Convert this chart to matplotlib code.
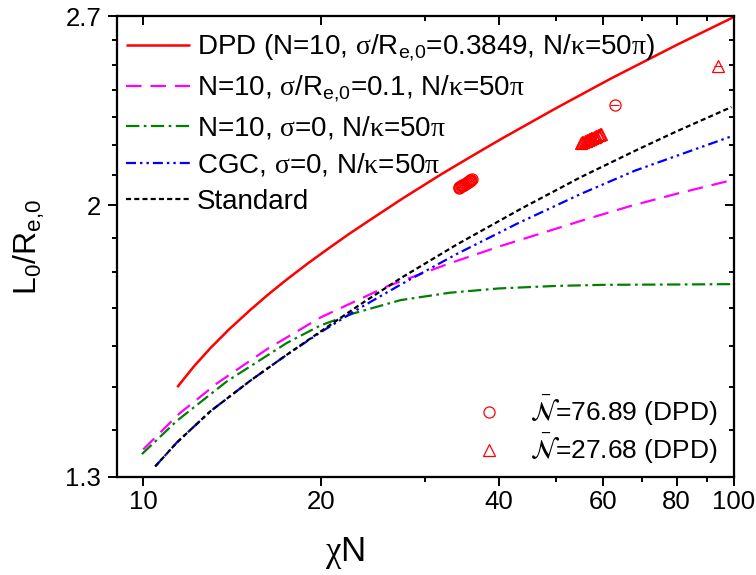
import matplotlib
matplotlib.use("Agg")
import matplotlib.pyplot as plt
from matplotlib.font_manager import FontProperties
from matplotlib.ticker import FixedLocator, NullFormatter, FixedFormatter

plt.rcParams['font.family'] = ['Liberation Sans', 'DejaVu Sans']
plt.rcParams['mathtext.fontset'] = 'custom'
plt.rcParams['mathtext.rm'] = 'Liberation Sans'
plt.rcParams['mathtext.it'] = 'Liberation Sans:italic'
plt.rcParams['mathtext.bf'] = 'Liberation Sans:bold'
plt.rcParams['mathtext.tt'] = 'Liberation Serif'

# ---------------- data ----------------
dpd_x = [11.42, 12.2, 13.0, 14.0, 15.2, 16.3, 17.5, 19.0, 20.6, 22.3, 24.25, 27.5, 31.9, 35.5, 40.3, 50.0, 62.0, 80.0, 100.0]
dpd_y = [1.499, 1.550, 1.595, 1.644, 1.695, 1.737, 1.778, 1.824, 1.868, 1.911, 1.955, 2.022, 2.100, 2.155, 2.221, 2.333, 2.446, 2.579, 2.696]

s01_x = [10.0, 11.48, 13.33, 16.2, 19.95, 25.9, 33.0, 40.3, 55.7, 66.9, 80.0, 99.0]
s01_y = [1.358, 1.436, 1.508, 1.592, 1.674, 1.759, 1.824, 1.875, 1.954, 1.998, 2.037, 2.081]

s0_x = [9.95, 11.4, 13.86, 17.51, 19.95, 22.7, 27.3, 33.0, 40.0, 50.0, 60.0, 80.0, 100.0]
s0_y = [1.348, 1.421, 1.513, 1.608, 1.653, 1.685, 1.721, 1.741, 1.753, 1.760, 1.763, 1.764, 1.765]

cgc_x = [10.48, 11.4, 13.0, 15.2, 17.5, 19.95, 23.3, 27.3, 34.0, 43.0, 55.0, 68.0, 99.0]
cgc_y = [1.322, 1.373, 1.443, 1.515, 1.578, 1.635, 1.700, 1.764, 1.852, 1.943, 2.036, 2.113, 2.231]

std_x = [10.48, 11.4, 13.0, 15.2, 17.5, 19.95, 23.3, 27.3, 34.0, 43.6, 55.0, 68.4, 80.0, 99.0]
std_y = [1.322, 1.373, 1.443, 1.515, 1.578, 1.637, 1.709, 1.782, 1.880, 1.989, 2.091, 2.183, 2.249, 2.337]

circ_x = [34.2, 34.3, 34.4, 34.5, 34.6, 34.7, 34.8, 34.9, 35.0, 35.1, 35.2, 35.3, 35.4, 35.5,
          35.6, 35.7, 35.8, 35.9, 36.0, 62.8]
circ_y = [2.057, 2.058, 2.060, 2.061, 2.063, 2.064, 2.066, 2.067, 2.069, 2.070, 2.072, 2.073,
          2.075, 2.076, 2.078, 2.079, 2.081, 2.083, 2.085, 2.345]
circ_xerr = [0] * 19 + [1.2]

tri_x = [55.1, 55.35, 55.6, 55.85, 56.1, 56.35, 56.6, 56.85, 57.1, 57.35, 57.6, 57.85, 58.1,
         58.3, 58.5, 58.75, 59.0, 59.25, 59.5, 94.0]
tri_y = [2.209, 2.211, 2.212, 2.214, 2.215, 2.217, 2.219, 2.221, 2.222, 2.224, 2.225, 2.227,
         2.229, 2.231, 2.232, 2.234, 2.236, 2.238, 2.240, 2.495]
tri_xerr = [0] * 19 + [1.6]

labels = [
    r'DPD (N=10, $\mathtt{\sigma}$/R$_{\mathrm{e{,}0}}$=0.3849, N/$\mathtt{\kappa}$=50$\mathtt{\pi}$)',
    r'N=10, $\mathtt{\sigma}$/R$_{\mathrm{e{,}0}}$=0.1, N/$\mathtt{\kappa}$=50$\mathtt{\pi}$',
    r'N=10, $\mathtt{\sigma}$=0, N/$\mathtt{\kappa}$=50$\mathtt{\pi}$',
    r'CGC, $\mathtt{\sigma}$=0, N/$\mathtt{\kappa}$=50$\mathtt{\pi}$',
    'Standard',
]
marker_labels = [r'$\bar{\mathcal{N}}$=76.89 (DPD)', r'$\bar{\mathcal{N}}$=27.68 (DPD)']

xticks_major = [10, 20, 40, 60, 80, 100]
xticks_minor = [30, 50, 70, 90]
yticks_major = [1.3, 2.0, 2.7]
ytick_labels = ['1.3', '2', '2.7']
yticks_minor = [1.4, 1.5, 1.6, 1.7, 1.8, 1.9, 2.1, 2.2, 2.3, 2.4, 2.5, 2.6]

# ---------------- figure ----------------
fig = plt.figure(figsize=(7.56, 5.75), dpi=100)
ax = fig.add_axes([117/756, 1-477/575, (734-117)/756, (477-16)/575])

lw = 1.6
h1, = ax.plot(dpd_x, dpd_y, color='#FF0000', lw=1.8, solid_capstyle='butt')
h2, = ax.plot(s01_x, s01_y, color='#FF00FF', lw=lw, dashes=(7, 4))
h3, = ax.plot(s0_x, s0_y, color='#008000', lw=lw, dashes=(6, 2, 1.2, 2))
h4, = ax.plot(cgc_x, cgc_y, color='#0000FF', lw=lw, dashes=(4.5, 1.8, 1.1, 1.8, 1.1, 1.8))
h5, = ax.plot(std_x, std_y, color='black', lw=lw, dashes=(2.3, 1.4))

ax.errorbar(circ_x, circ_y, xerr=circ_xerr, fmt='none', ecolor='#FF0000', elinewidth=0.8)
ax.errorbar(tri_x, tri_y, xerr=tri_xerr, fmt='none', ecolor='#FF0000', elinewidth=0.8)
m1, = ax.plot(circ_x, circ_y, 'o', ls='none', ms=8, mfc='none', mec='#FF0000', mew=0.9)
m2, = ax.plot(tri_x, tri_y, '^', ls='none', ms=8.5, mfc='none', mec='#FF0000', mew=0.9)

ax.set_xscale('log')
ax.set_yscale('log')
ax.set_xlim(9.03, 100)
ax.set_ylim(1.3, 2.7)

ax.xaxis.set_major_locator(FixedLocator(xticks_major))
ax.xaxis.set_major_formatter(FixedFormatter([str(v) for v in xticks_major]))
ax.xaxis.set_minor_locator(FixedLocator(xticks_minor))
ax.xaxis.set_minor_formatter(NullFormatter())
ax.yaxis.set_major_locator(FixedLocator(yticks_major))
ax.yaxis.set_major_formatter(FixedFormatter(ytick_labels))
ax.yaxis.set_minor_locator(FixedLocator(yticks_minor))
ax.yaxis.set_minor_formatter(NullFormatter())

for sp in ax.spines.values():
    sp.set_linewidth(1.5)
ax.tick_params(which='major', direction='out', length=6.5, width=1.4, labelsize=18.5, pad=3)
ax.tick_params(which='minor', direction='out', length=3.8, width=1.4)
ax.tick_params(axis='y', which='major', pad=5)

# mirrored inward ticks on top and right
axr = ax.twinx()
axr.set_yscale('log')
axr.set_ylim(1.3, 2.7)
axr.yaxis.set_major_locator(FixedLocator(yticks_major))
axr.yaxis.set_minor_locator(FixedLocator(yticks_minor))
axr.yaxis.set_major_formatter(NullFormatter())
axr.yaxis.set_minor_formatter(NullFormatter())
axr.tick_params(which='major', direction='in', length=6.5, width=1.4)
axr.tick_params(which='minor', direction='in', length=3.8, width=1.4)
axt = ax.twiny()
axt.set_xscale('log')
axt.set_xlim(9.03, 100)
axt.xaxis.set_major_locator(FixedLocator(xticks_major))
axt.xaxis.set_minor_locator(FixedLocator(xticks_minor))
axt.xaxis.set_major_formatter(NullFormatter())
axt.xaxis.set_minor_formatter(NullFormatter())
axt.tick_params(which='major', direction='in', length=6.5, width=1.4)
axt.tick_params(which='minor', direction='in', length=3.8, width=1.4)
for a in (axr, axt):
    for sp in a.spines.values():
        sp.set_linewidth(1.5)

ax.set_xlabel(r'$\mathtt{\chi}$N', fontsize=25)
ax.xaxis.set_label_coords(0.37, -0.125)
ax.set_ylabel(r'L$_0$/R$_{\mathrm{e{,}0}}$', fontsize=23, labelpad=13)

leg1 = axt.legend([h1, h2, h3, h4, h5], labels, loc='upper left', frameon=False,
                  bbox_to_anchor=(-0.012, 1.0),
                  fontsize=20, handlelength=2.3, handletextpad=0.25, borderpad=0.2,
                  borderaxespad=0.4, labelspacing=0.37)
axt.add_artist(leg1)
mprop = FontProperties(family='Liberation Sans', size=19, math_fontfamily='stix')
leg2 = axt.legend([m1, m2], marker_labels, loc='lower right', frameon=False,
                  bbox_to_anchor=(1 - 6/617, 0.0),
                  prop=mprop, handlelength=2.0, handletextpad=0.55, borderpad=0.2,
                  borderaxespad=0.2, labelspacing=0.15, numpoints=1)

fig.savefig('out.png', dpi=100)
